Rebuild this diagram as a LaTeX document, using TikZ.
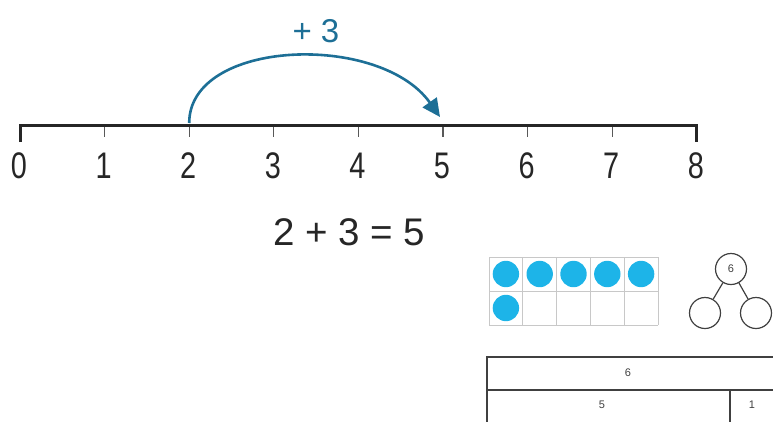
\documentclass[tikz,border=0pt]{standalone}
\usepackage{fontspec}
\setmainfont{Liberation Sans}
\newfontfamily\narrowfont[FakeStretch=0.78]{Liberation Sans}
\usetikzlibrary{arrows.meta, positioning, calc}
\definecolor{jump-blue}{HTML}{1D6F96}
\definecolor{dot-cyan}{HTML}{1DB4E8}
\definecolor{grid-gray}{HTML}{C8C8C8}
\definecolor{line-dark}{HTML}{404040}
\newcommand{\tfdot}[2]{%  \tfdot{col}{row}
  \fill[dot-cyan] ({489+33.8*(#1+0.5)},{257+34*(#2+0.5)}) circle (13.2);}

\begin{document}
\begin{tikzpicture}[x=1pt, y=-1pt,
    numlabel/.style={font=\narrowfont\fontsize{37}{40}\selectfont, text=black!85, inner sep=0pt},
    jumplabel/.style={font=\fontsize{33}{35}\selectfont, text=jump-blue, inner sep=0pt},
    sumlabel/.style={font=\fontsize{38.5}{42}\selectfont, text=black!85, inner sep=0pt},
    partcircle/.style={circle, draw=line-dark, line width=1.2pt, minimum size=31pt,
                       inner sep=0pt, font=\fontsize{11}{12}\selectfont, text=line-dark},
    barcell/.style={draw=line-dark, line width=1.4pt},
    barlabel/.style={font=\fontsize{11}{12}\selectfont, text=line-dark, inner sep=0pt}]
  \useasboundingbox (0,0) rectangle (773,421);
  \clip (0,0) rectangle (773,421);
    % ── Number line 0 .. 8
    \foreach \i in {0,...,8} {
      \coordinate (t\i) at ({20+84.6*\i},125);
      \node[numlabel] (n\i) at ({19+84.6*\i},166) {\i};
    }
    \foreach \i in {1,...,7}
      \draw[line width=1.3pt, black!65] (t\i) -- ++(0,12);
    \draw[line width=3pt, black!85] ($(t0)+(0,17)$) -- (t0) -- (t8) -- ++(0,17);
    % ── Jump of three
    \draw[jump-blue, line width=2.6pt, -{Triangle[length=18pt,width=17pt]}]
          ([yshift=2pt]t2) .. controls +(0,-84) and +(-60,-85) .. ([xshift=-3pt,yshift=8pt]t5);
    \node[jumplabel] (jump) at (316,31) {+\hspace{9pt}3};
    \node[sumlabel] (sum) at (349,232) {2 + 3 = 5};
    % ── Ten frame
    \foreach \c in {0,...,5}
      \draw[grid-gray, line width=1pt] ({489+33.8*\c},257) -- ++(0,68);
    \foreach \r in {0,1,2}
      \draw[grid-gray, line width=1pt] (489,{257+34*\r}) -- ++(169,0);
    \foreach \c in {0,...,4} {\tfdot{\c}{0}}
    \tfdot{0}{1}
    % ── Part-whole model
    \node[partcircle] (whole) at (731,269) {6};
    \node[partcircle] (partL) at (705,313) {};
    \node[partcircle] (partR) at (756,313) {};
    \draw[line-dark, line width=1.2pt] (whole) -- (partL) (whole) -- (partR);
    % ── Bar model
    \draw[barcell] (487,357) rectangle (790,390);
    \draw[barcell] (487,390) rectangle (790,440);
    \draw[barcell] (730,390) -- (730,440);
    \node[barlabel] (barWhole) at (628,373) {6};
    \node[barlabel] (barPartA) at (602,405) {5};
    \node[barlabel] (barPartB) at (752,405) {1};
\end{tikzpicture}
\end{document}
